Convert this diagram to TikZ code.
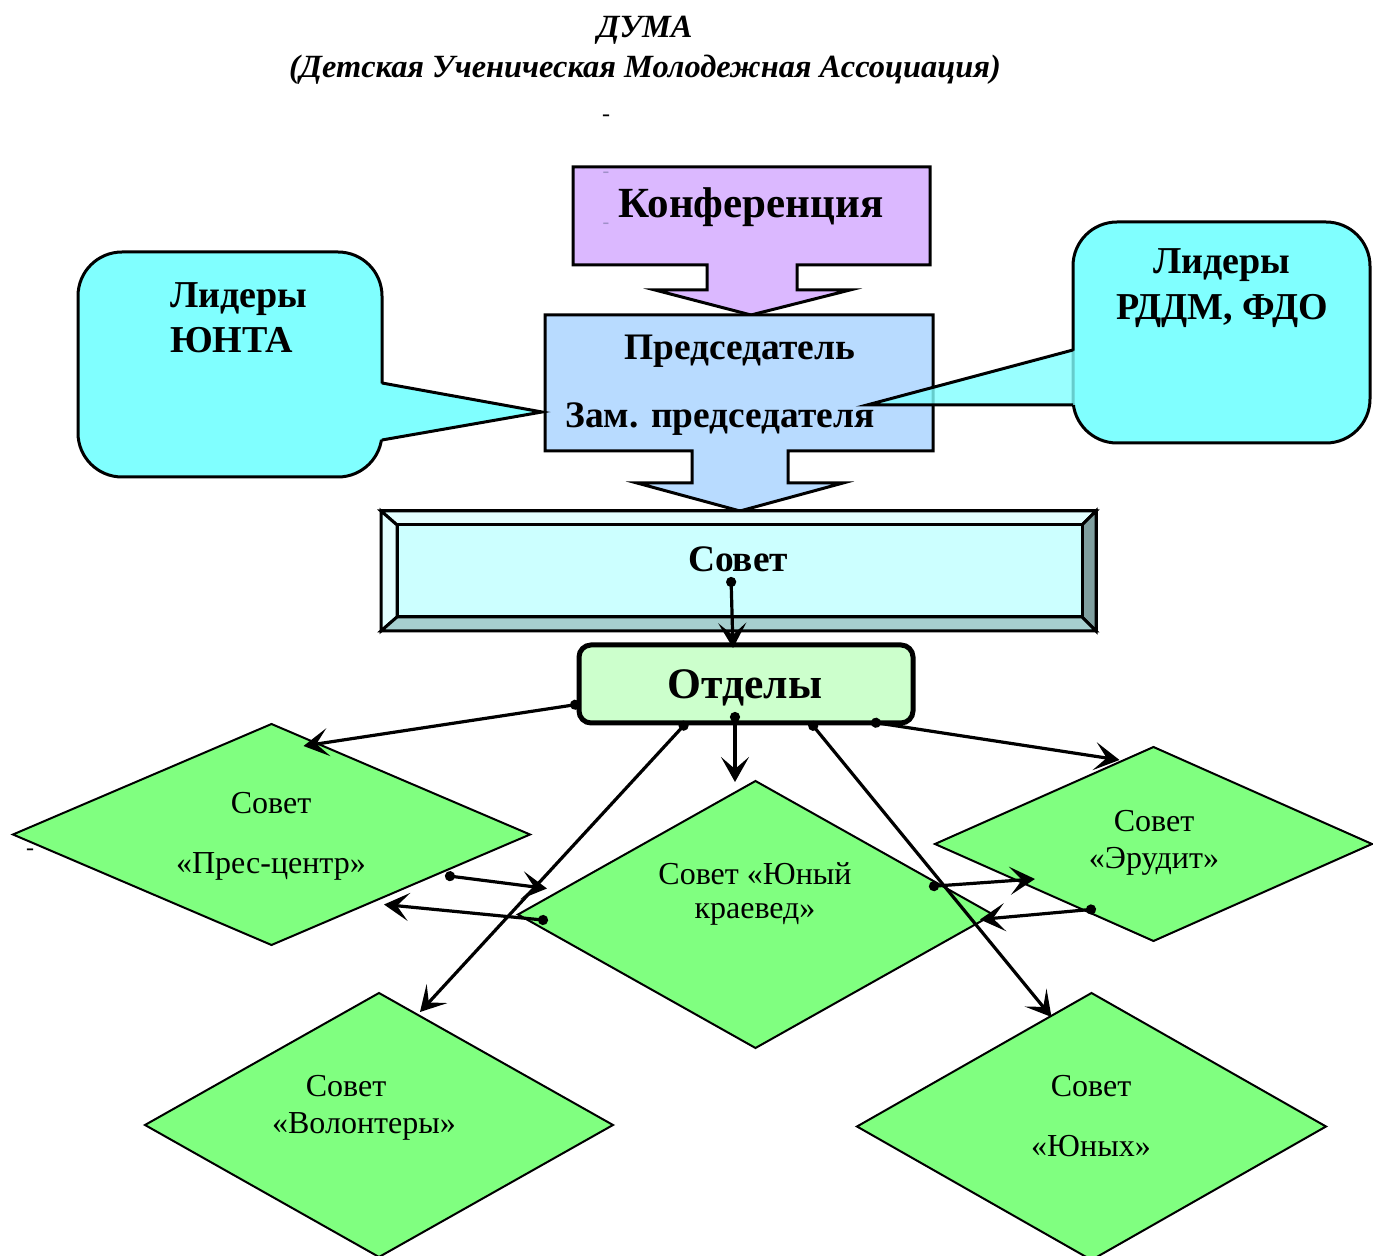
\documentclass[tikz,border=0pt]{standalone}
\usepackage{fontspec}
\setmainfont{Liberation Serif}
\usetikzlibrary{arrows.meta,shapes.geometric,calc}

\definecolor{konfcol}{HTML}{DBB8FF}
\definecolor{chaircol}{HTML}{B8DBFF}
\definecolor{bubblecol}{HTML}{80FFFF}
\definecolor{sovetcol}{HTML}{CCFFFF}
\definecolor{bevellight}{HTML}{E2FFFF}
\definecolor{beveldark}{HTML}{7F9F9F}
\definecolor{bevelmid}{HTML}{A6CFCF}
\definecolor{otdcol}{HTML}{CCFFCC}
\definecolor{councilcol}{HTML}{80FF80}
\definecolor{dashcol}{HTML}{9F8FC8}

\begin{document}
\begin{tikzpicture}[x=0.5pt,y=-0.5pt,
    every node/.style={inner sep=0pt,outer sep=0pt},
    blockarrow/.style={draw,line width=1.5pt,line join=miter},
    bubble/.style={draw,line width=1.5pt,fill=bubblecol,rounded corners=22pt},
    council/.style 2 args={diamond,draw,line width=1pt,fill=councilcol,minimum width=#1,minimum height=#2},
    link/.style={line width=1.6pt,{Circle[length=5pt]}-{Stealth[length=12.5pt,width=14pt,inset=6pt]}},
    ctext/.style={font=\fontsize{16}{19}\selectfont},
    btext/.style={font=\fontsize{18.7}{22}\selectfont\bfseries},
    ttext/.style={font=\fontsize{16.2}{19}\selectfont\bfseries\itshape}]
\useasboundingbox (0,0) rectangle (1373,1256);

% title
\node[ttext] (duma) at (645,30) {ДУМА};
\node[ttext] (assoc) at (645,70) {(Детская Ученическая Молодежная Ассоциация)};
\node[font=\fontsize{12}{12}\selectfont] (dash1) at (606,118) {-};
\node[font=\fontsize{12}{12}\selectfont] (dash2) at (30,852) {-};

% conference and chair
\draw[blockarrow,fill=konfcol] (573,167) -- (930,167) -- (930,265) -- (797,265) -- (797,290) -- (850,290) -- (751,315) -- (655,290) -- (707,290) -- (707,265) -- (573,265) -- cycle;
\node[font=\fontsize{21.5}{25}\selectfont\bfseries] (konf) at (751,207) {Конференция};
\node[text=dashcol,font=\fontsize{10}{10}\selectfont] (mark1) at (606,175) {-};
\node[text=dashcol,font=\fontsize{10}{10}\selectfont] (mark2) at (606,226) {-};

\draw[blockarrow,fill=chaircol] (545,315) -- (933,315) -- (933,451) -- (788,451) -- (788,483) -- (843,483) -- (740,511) -- (637,483) -- (692,483) -- (692,451) -- (545,451) -- cycle;
\node[btext] (chair) at (740,351) {Председатель};
\node[btext] (vice) at (720,419) {Зам. председателя};

% leaders
\draw[bubble] (78,252) rectangle (382,477);
\fill[bubblecol] (378,383) -- (542,412) -- (378,440) -- cycle;
\draw[line width=1.5pt] (382,383) -- (542,412) -- (382,440);
\node[font=\fontsize{19}{22.5}\selectfont\bfseries,align=left,anchor=west] (yunta) at (170,318) {Лидеры\\ЮНТА};

\draw[bubble] (1073,222) rectangle (1370,443);
\fill[bubblecol,fill opacity=0.8] (1077,350) -- (867,405) -- (1077,405) -- cycle;
\draw[line width=1.5pt] (1073,350) -- (867,405) -- (1073,405);
\node[font=\fontsize{19}{23}\selectfont\bfseries,align=center] (rddm) at (1222,288) {Лидеры\\РДДМ, ФДО};

% council
\node[draw,line width=1.5pt,minimum width=357.5pt,minimum height=60pt] (sovet) at (738.5,571) {};
\node[minimum width=342.5pt,minimum height=46pt] (sovet-in) at (739.5,571) {};
\filldraw[line width=1.5pt,fill=bevellight] (sovet.north west) -- (sovet.north east) -- (sovet-in.north east) -- (sovet-in.north west) -- cycle;
\filldraw[line width=1.5pt,fill=bevellight] (sovet.north west) -- (sovet-in.north west) -- (sovet-in.south west) -- (sovet.south west) -- cycle;
\filldraw[line width=1.5pt,fill=beveldark] (sovet.north east) -- (sovet.south east) -- (sovet-in.south east) -- (sovet-in.north east) -- cycle;
\filldraw[line width=1.5pt,fill=bevelmid] (sovet.south west) -- (sovet.south east) -- (sovet-in.south east) -- (sovet-in.south west) -- cycle;
\filldraw[line width=1.5pt,fill=sovetcol] (sovet-in.north west) rectangle (sovet-in.south east);
\node[btext] (sovet-txt) at (738,559) {Совет};

\node[draw,line width=2.5pt,rounded corners=6pt,fill=otdcol,minimum width=167pt,minimum height=39pt] (otdely) at (746,684) {};
\node[font=\fontsize{21.8}{25}\selectfont\bfseries] (otdely-txt) at (745,688) {Отделы};
\draw[link] ($(sovet.center)+(-7.5,6)$) -- ($(otdely.north)+(-13,3)$);

% departments
\node[council={258.5pt}{110.5pt}] (pres) at (271.5,834.5) {};
\node[council={237.5pt}{133.5pt}] (kraeved) at (755.5,914.5) {};
\node[council={218.5pt}{97pt}] (erudit) at (1153.5,844) {};
\node[council={234pt}{132pt}] (volont) at (379,1125) {};
\node[council={234.5pt}{133.5pt}] (yunyh) at (1091.5,1126.5) {};

\node[ctext] (pres-a) at (271,803) {Совет};
\node[ctext] (pres-b) at (271,866) {«Прес-центр»};
\node[ctext] (kraeved-a) at (755,874) {Совет «Юный};
\node[ctext] (kraeved-b) at (755,914) {краевед»};
\node[ctext] (erudit-a) at (1154,821) {Совет};
\node[ctext] (erudit-b) at (1154,861) {«Эрудит»};
\node[ctext] (volont-a) at (346,1086) {Совет};
\node[ctext] (volont-b) at (364,1126) {«Волонтеры»};
\node[ctext] (yunyh-a) at (1091,1086) {Совет};
\node[ctext] (yunyh-b) at (1091,1146) {«Юных»};

\draw[link] ($(otdely.west)+(1,20)$) -- ($(pres.north)+(32,22)$);
\draw[link] ($(otdely.south)+(-59,-1)$) -- ($(volont.north)+(41,19)$);
\draw[link] ($(otdely.south)+(-11,-11)$) -- ($(kraeved.north)+(-20.5,1)$);
\draw[link] ($(otdely.south)+(64,-1)$) -- ($(yunyh.north)+(-40,24)$);
\draw[link] ($(otdely.south)+(125,-1)$) -- ($(erudit.north)+(-34,13)$);
\draw[link] ($(pres.east)+(-85,41)$) -- ($(kraeved.west)+(29,-26)$);
\draw[link] ($(kraeved.west)+(30,6)$) -- ($(pres.east)+(-146,70)$);
\draw[link] ($(kraeved.east)+(-64,-28)$) -- ($(erudit.west)+(100,35)$);
\draw[link] ($(erudit.south)+(-57.5,-32)$) -- ($(kraeved.east)+(-13,5)$);
\end{tikzpicture}
\end{document}
